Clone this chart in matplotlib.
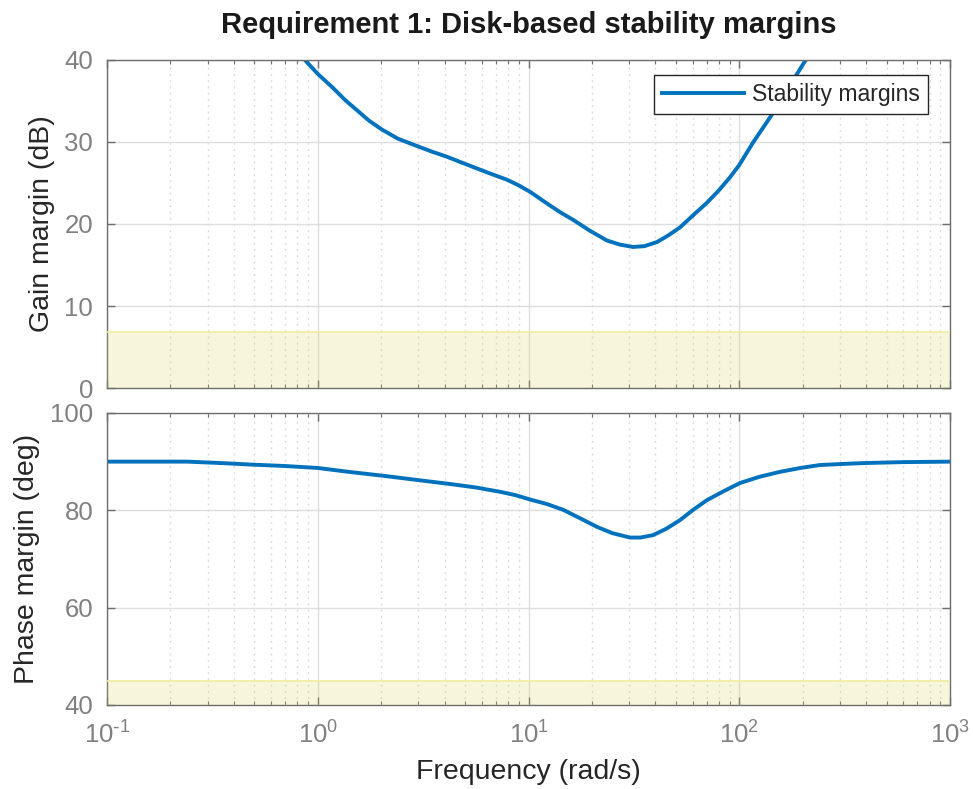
import matplotlib
matplotlib.use("Agg")
import matplotlib.pyplot as plt
import matplotlib.ticker as mticker
import numpy as np

# ── data ────────────────────────────────────────────────────────────────────
gain_freq = [0.84, 1.0, 1.18, 1.35, 1.53, 1.75, 2.02, 2.4, 2.96, 3.5, 4.1,
             4.7, 5.46, 6.5, 7.9, 9.0, 10.2, 12.4, 14.2, 16.3, 19.5, 23.5,
             27, 31.3, 35.5, 40.7, 46, 52.4, 60, 70.3, 80, 90.4, 100, 116,
             140, 172, 209]
gain_db = [40.4, 38.3, 36.6, 35.1, 33.9, 32.6, 31.5, 30.4, 29.5, 28.8, 28.2,
           27.6, 26.95, 26.2, 25.4, 24.7, 23.9, 22.4, 21.4, 20.5, 19.2, 18.0,
           17.5, 17.2, 17.3, 17.8, 18.6, 19.6, 21.0, 22.6, 24.1, 25.7, 27.2, 29.9,
           33.0, 36.7, 40.2]

phase_freq = [0.1, 0.24, 0.35, 0.48, 0.7, 1.0, 1.4, 2.04, 3.0, 4.25, 5.6,
              7.33, 8.7, 10.2, 12.2, 14.6, 17.5, 21.1, 25, 30.3, 34, 39, 45,
              52.4, 60, 70.3, 85, 100.7, 125, 156, 195, 241, 300, 386, 600, 1000]
phase_deg = [90, 90, 89.7, 89.4, 89.1, 88.7, 87.9, 87.1, 86.2, 85.4, 84.7,
             83.8, 83.1, 82.2, 81.3, 80.1, 78.4, 76.6, 75.3, 74.4, 74.4, 74.9, 76.2,
             78, 80, 82.1, 84.0, 85.6, 86.9, 87.9, 88.7, 89.3, 89.5, 89.7, 89.9, 90]

gain_bound = 6.8    # dB, shaded "bad" region below this
phase_bound = 45    # deg

title = "Requirement 1: Disk-based stability margins"
legend_label = "Stability margins"

# ── style ───────────────────────────────────────────────────────────────────
plt.rcParams["font.family"] = ["Liberation Sans", "DejaVu Sans"]
plt.rcParams["mathtext.default"] = "regular"
plt.rcParams["axes.unicode_minus"] = False

LINE = "#0072BD"
TICK_GRAY = "#808080"
TEXT_DARK = "#262626"
SPINE = "#6e6e6e"
BAND_FACE = (0.85, 0.84, 0.35)
BAND_EDGE = "#F0ECA0"


def decade_label(v, pos):
    # MATLAB-style 10^n with a plain hyphen for negative exponents
    e = int(round(np.log10(v)))
    exp = r"\text{-}" + str(-e) if e < 0 else str(e)
    return r"$10^{" + exp + "}$"


fig = plt.figure(figsize=(9.73, 7.89), dpi=100)
ax1 = fig.add_axes([0.110, 0.5082, 0.8664, 0.4158])
ax2 = fig.add_axes([0.110, 0.1065, 0.8664, 0.3701])


def style_axes(ax, ylim, yticks):
    ax.set_xscale("log")
    ax.set_xlim(0.1, 1000)
    ax.set_ylim(*ylim)
    ax.set_yticks(yticks)
    ax.xaxis.set_major_locator(mticker.LogLocator(base=10, numticks=10))
    ax.xaxis.set_minor_locator(mticker.LogLocator(base=10, subs=range(2, 10), numticks=20))
    ax.xaxis.set_major_formatter(mticker.FuncFormatter(decade_label))
    ax.tick_params(which="both", direction="in", top=True, right=True,
                   colors=SPINE, labelcolor=TICK_GRAY, labelsize=18.5)
    ax.tick_params(which="major", length=6, width=1)
    ax.tick_params(which="minor", length=3, width=0.8)
    ax.tick_params(axis="y", pad=10)
    ax.tick_params(axis="x", pad=12)
    for s in ax.spines.values():
        s.set_color(SPINE)
        s.set_linewidth(1)
    ax.grid(True, which="major", color="#dedede", linewidth=1, linestyle="-")
    ax.grid(True, which="minor", axis="x", color="#dcdcdc", linewidth=1, linestyle=(0, (1.5, 3)))
    ax.set_axisbelow(True)


style_axes(ax1, (0, 40), [0, 10, 20, 30, 40])
style_axes(ax2, (40, 100), [40, 60, 80, 100])
ax1.tick_params(axis="x", labelbottom=False)

# shaded infeasible regions
ax1.axhspan(0, gain_bound, facecolor=BAND_FACE, alpha=0.2, edgecolor="none", zorder=2.6)
ax1.axhline(gain_bound, color=BAND_EDGE, linewidth=1.2, zorder=2.6)
ax2.axhspan(40, phase_bound, facecolor=BAND_FACE, alpha=0.2, edgecolor="none", zorder=2.6)
ax2.axhline(phase_bound, color=BAND_EDGE, linewidth=1.2, zorder=2.6)

ax1.plot(gain_freq, gain_db, color=LINE, linewidth=2.8, label=legend_label,
         solid_joinstyle="round")
ax2.plot(phase_freq, phase_deg, color=LINE, linewidth=2.8, solid_joinstyle="round")

# legend box sits ~22 px from the right edge, ~15 px below the top
leg = ax1.legend(loc="upper right", bbox_to_anchor=(1 - 22 / 843, 1 - 15 / 328),
                 borderaxespad=0, fontsize=16.5, frameon=True, fancybox=False,
                 framealpha=1, edgecolor=TEXT_DARK, handlelength=3.6,
                 handletextpad=0.35, borderpad=0.35)
leg.get_frame().set_linewidth(1)
for t in leg.get_texts():
    t.set_color(TEXT_DARK)

fig.text(0.5432, 0.968, title, ha="center", va="center", fontsize=21,
         fontweight="bold", color="#1a1a1a")
fig.text(0.043, (0.5082 + 0.924) / 2, "Gain margin (dB)", rotation=90,
         ha="center", va="center", fontsize=20.5, color=TEXT_DARK)
fig.text(0.028, (0.1065 + 0.4766) / 2, "Phase margin (deg)", rotation=90,
         ha="center", va="center", fontsize=20.5, color=TEXT_DARK)
fig.text(0.5432, 0.0215, "Frequency (rad/s)", ha="center", va="center",
         fontsize=20.5, color=TEXT_DARK)

fig.savefig("out.png", dpi=100)
